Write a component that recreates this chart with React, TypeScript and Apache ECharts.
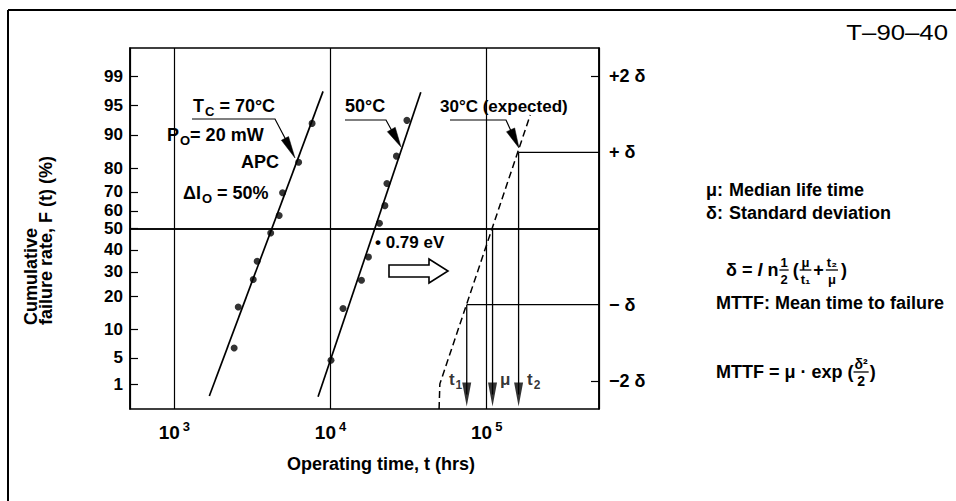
import React, { useEffect, useRef } from 'react';
import * as echarts from 'echarts';

// ---------------- data ----------------
// left axis: cumulative failure rate labels and their position on the sigma scale
const percentLabels = ['1', '5', '10', '20', '30', '40', '50', '60', '70', '80', '90', '95', '99'];
const percentSigma = [-2.05, -1.7, -1.32, -0.89, -0.57, -0.28, 0, 0.23, 0.48, 0.79, 1.23, 1.62, 2.0];
// right axis: standard deviation scale
const sigmaLabelValues = [-2, -1, 1, 2];
const sigmaLabels = ['\u22122 \u03b4', '\u2212 \u03b4', '+ \u03b4', '+2 \u03b4'];
const sigmaTickValues = [-2, 2];

// Tc = 70 degC measurements (hours, sigma) and fitted line
const hours70 = [7620, 6250, 4930, 4690, 4140, 3390, 3200, 2565, 2415];
const sigma70 = [1.38, 0.87, 0.47, 0.17, -0.06, -0.43, -0.67, -1.03, -1.57];
const fitHours70 = [1675, 8955];
const fitSigma70 = [-2.2, 1.8];

// Tc = 50 degC measurements and fitted line
const hours50 = [30830, 26420, 22960, 22290, 20560, 17490, 15780, 12020, 10070];
const sigma50 = [1.42, 0.95, 0.59, 0.3, 0.07, -0.375, -0.68, -1.05, -1.73];
const fitHours50 = [8320, 37840];
const fitSigma50 = [-2.21, 1.79];

// 30 degC expected distribution (dashed)
const expHours30 = [49550, 50120, 190000];
const expSigma30 = [-2.37, -2.04, 1.49];

// t1, mu, t2 read-outs
const markerNames = ['t1', 'mu', 't2'];
const markerHours = [74500, 109000, 160000];
const markerStartSigma = [-1, 0, 1];
const arrowHeadSigma = -2.18;

const xMin = 520;
const xMax = 523600;
const yMin = -2.37;
const yMax = 2.37;

// ---------------- helpers ----------------
const FF = '"Liberation Sans", Arial, Helvetica, sans-serif';
const font = (size: number, weight = 'bold', style = 'normal') => `${style} ${weight} ${size}px ${FF}`;
let measureCtx: CanvasRenderingContext2D | null = null;
function tw(text: string, f: string): number {
  if (!measureCtx) measureCtx = document.createElement('canvas').getContext('2d');
  measureCtx!.font = f;
  return measureCtx!.measureText(text).width;
}
function txt(x: number, y: number, text: string, f: string, align = 'left', extra: any = {}, el: any = {}) {
  return {
    type: 'text',
    x,
    y,
    silent: true,
    ...el,
    style: { text, font: f, fill: '#000', textAlign: align, align, textVerticalAlign: 'middle', verticalAlign: 'middle', ...extra },
  };
}
function frac(x: number, y: number, num: string, den: string, f: string) {
  const w = Math.max(tw(num, f), tw(den, f));
  const cx = x + w / 2 + 1;
  return {
    width: w + 2,
    els: [
      txt(cx, y - 8, num, f, 'center'),
      { type: 'line', silent: true, shape: { x1: cx - w / 2 - 1, y1: y, x2: cx + w / 2 + 1, y2: y }, style: { stroke: '#000', lineWidth: 1.3 } },
      txt(cx, y + 9, den, f, 'center'),
    ],
  };
}
function leader(pts: number[][], head: number[][]) {
  return [
    { type: 'polyline', silent: true, shape: { points: pts }, style: { stroke: '#000', lineWidth: 1.2, fill: null } },
    { type: 'polygon', silent: true, shape: { points: head }, style: { fill: '#000', stroke: '#000', lineWidth: 0.5 } },
  ];
}
function arrowHead(from: number[], tip: number[], len: number, half: number) {
  const dx = tip[0] - from[0];
  const dy = tip[1] - from[1];
  const l = Math.hypot(dx, dy);
  const ux = dx / l;
  const uy = dy / l;
  const bx = tip[0] - ux * len;
  const by = tip[1] - uy * len;
  return [
    [bx - uy * half, by + ux * half],
    tip,
    [bx + uy * half, by - ux * half],
  ];
}

function buildGraphic() {
  const g: any[] = [];
  // outer frame
  g.push({ type: 'line', silent: true, shape: { x1: 8, y1: 10, x2: 956, y2: 10 }, style: { stroke: '#000', lineWidth: 2 } });
  g.push({ type: 'line', silent: true, shape: { x1: 8, y1: 10, x2: 8, y2: 501 }, style: { stroke: '#000', lineWidth: 2 } });

  // y axis title (two lines, reading upwards)
  g.push(txt(31, 325, 'Cumulative', font(18), 'left', {}, { rotation: Math.PI / 2 }));
  g.push(txt(46, 325, 'failure rate, F (t) (%)', font(18), 'left', {}, { rotation: Math.PI / 2 }));
  // x axis title
  g.push(txt(381, 464, 'Operating time, t (hrs)', font(18), 'center'));

  const rich = {
    m: { font: font(18), fill: '#000' },
    s: { font: font(13), fill: '#000', padding: [10, 0, 0, 1] },
  };
  g.push(txt(193, 106, '{m|T}{s|C}{m| = 70\u00b0C}', font(18), 'left', { rich }));
  g.push(txt(167, 135, '{m|P}{s|O}{m|= 20 mW}', font(18), 'left', { rich }));
  g.push(txt(279, 162, 'APC', font(18), 'right'));
  g.push(txt(183, 193, '{m|\u0394I}{s|O}{m| = 50%}', font(18), 'left', { rich }));
  g.push(txt(345, 106, '50\u00b0C', font(18)));
  g.push(txt(440, 106, '30\u00b0C (expected)', font(17)));
  g.push(txt(375, 242, '\u2022 0.79 eV', font(17)));

  // leaders with arrow heads
  g.push(...leader([[192, 119], [275, 119], [286, 140]], arrowHead([275, 119], [295, 158], 22, 4)));
  g.push(...leader([[345, 120], [386, 120], [392, 131]], arrowHead([386, 120], [401, 147], 20, 4.5)));
  g.push(...leader([[450, 120], [506, 120], [511, 131]], arrowHead([506, 120], [519, 148], 20, 4.5)));

  // hollow activation-energy arrow
  g.push({
    type: 'polygon',
    silent: true,
    shape: { points: [[389, 265], [429, 265], [429, 259], [448, 271], [429, 283], [429, 277], [389, 277]] },
    style: { fill: '#fff', stroke: '#000', lineWidth: 1.6 },
  });

  // right-hand notes
  g.push(txt(948, 32, 'T\u201390\u201340', font(23, 'normal'), 'right', {}, { scaleX: 1.12 }));
  g.push(txt(706, 190, '\u03bc:', font(18)));
  g.push(txt(729, 190, 'Median life time', font(18)));
  g.push(txt(706, 213, '\u03b4:', font(18)));
  g.push(txt(729, 213, 'Standard deviation', font(18)));
  g.push(txt(716, 303, 'MTTF: Mean time to failure', font(18)));

  // formula: delta = ln 1/2 (mu/t1 + t2/mu)
  const big = font(18);
  const small = font(13);
  let x = 726;
  let y = 270;
  g.push(txt(x, y, '\u03b4 = ', big));
  x += tw('\u03b4 = ', big);
  const it = font(18, 'bold', 'italic');
  g.push(txt(x, y, 'l', it));
  x += tw('l ', it);
  g.push(txt(x, y, 'n', big));
  x += tw('n', big) + 1;
  let fr = frac(x, y, '1', '2', small);
  g.push(...fr.els);
  x += fr.width + 4;
  g.push(txt(x, y, '(', big));
  x += tw('(', big) + 1;
  fr = frac(x, y, '\u03bc', 't\u2081', small);
  g.push(...fr.els);
  x += fr.width + 2;
  g.push(txt(x, y, '+', big));
  x += tw('+', big) + 2;
  fr = frac(x, y, 't\u2082', '\u03bc', small);
  g.push(...fr.els);
  x += fr.width + 3;
  g.push(txt(x, y, ')', big));

  // formula: MTTF = mu . exp (delta^2 / 2)
  x = 716;
  y = 372;
  const s2 = 'MTTF = \u03bc \u00b7 exp (';
  g.push(txt(x, y, s2, big));
  x += tw(s2, big);
  fr = frac(x, y, '\u03b4\u00b2', '2', font(14));
  g.push(...fr.els);
  x += fr.width + 1;
  g.push(txt(x, y, ')', big));
  return g;
}

function buildOption() {
  const black = '#000';
  const lineSeries = (xs: number[], ys: number[], extra: any = {}) => ({
    type: 'line',
    data: xs.map((v, i) => [v, ys[i]]),
    symbol: 'none',
    silent: true,
    lineStyle: { color: black, width: 1.7 },
    z: 3,
    ...extra,
  });
  const series: any[] = [
    lineSeries(fitHours70, fitSigma70),
    { type: 'scatter', data: hours70.map((v, i) => [v, sigma70[i]]), symbol: 'circle', symbolSize: 7, itemStyle: { color: black }, silent: true, z: 4 },
    lineSeries(fitHours50, fitSigma50),
    { type: 'scatter', data: hours50.map((v, i) => [v, sigma50[i]]), symbol: 'circle', symbolSize: 7, itemStyle: { color: black }, silent: true, z: 4 },
    lineSeries(expHours30, expSigma30, {
      lineStyle: { color: black, width: 1.5, type: [7, 4] },
      markLine: {
        silent: true,
        symbol: 'none',
        label: { show: false },
        lineStyle: { color: black, width: 1.5, type: 'solid' },
        data: [{ yAxis: 0 }],
      },
    }),
    lineSeries([markerHours[2], xMax], [1, 1], { lineStyle: { color: black, width: 1.4 } }),
    lineSeries([markerHours[0], xMax], [-1, -1], { lineStyle: { color: black, width: 1.4 } }),
  ];
  markerHours.forEach((h, i) => {
    series.push(lineSeries([h, h], [markerStartSigma[i], arrowHeadSigma], { lineStyle: { color: black, width: 1.3 } }));
  });
  const labelDefs = [
    { position: 'left', distance: 0, formatter: '{t|t}{s|1}' },
    { position: 'right', distance: 3, formatter: '{t|\u03bc}' },
    { position: 'right', distance: 4, formatter: '{t|t}{s|2}' },
  ];
  series.push({
    type: 'scatter',
    silent: true,
    z: 5,
    symbol: 'path://M0,0L10,0L5,24Z',
    symbolSize: [9, 24],
    itemStyle: { color: black },
    data: markerHours.map((h, i) => ({
      name: markerNames[i],
      value: [h, arrowHeadSigma],
      label: {
        show: true,
        position: labelDefs[i].position,
        distance: labelDefs[i].distance,
        offset: [0, -15],
        formatter: labelDefs[i].formatter,
        rich: {
          t: { fontFamily: FF, fontWeight: 'bold', fontSize: 17, color: black },
          s: { fontFamily: FF, fontWeight: 'bold', fontSize: 12, color: black, padding: [10, 0, 0, 1] },
        },
      },
    })),
  });

  return {
    animation: false,
    backgroundColor: '#fff',
    grid: { left: 130, top: 48, width: 469, height: 361, show: true, borderColor: black, borderWidth: 1.5, backgroundColor: 'transparent' },
    xAxis: {
      type: 'log',
      logBase: 10,
      min: xMin,
      max: xMax,
      axisLine: { show: true, lineStyle: { color: black, width: 1.5 } },
      axisTick: { show: false },
      minorTick: { show: false },
      splitLine: { show: true, lineStyle: { color: black, width: 1.2 } },
      axisLabel: {
        margin: 11,
        showMinLabel: false,
        showMaxLabel: false,
        formatter: (v: number) => {
          const l = Math.log10(v);
          const e = Math.round(l);
          if (Math.abs(l - e) > 1e-6) return '';
          return `{b|10}{s|${e}}`;
        },
        rich: {
          b: { fontFamily: FF, fontWeight: 'bold', fontSize: 19, color: black },
          s: { fontFamily: FF, fontWeight: 'bold', fontSize: 13, color: black, padding: [0, 0, 11, 3] },
        },
      },
    },
    yAxis: [
      {
        type: 'value',
        min: yMin,
        max: yMax,
        position: 'left',
        axisLine: { show: true, lineStyle: { color: black, width: 1.5 } },
        axisTick: { show: true, inside: true, length: 8, customValues: percentSigma, lineStyle: { color: black, width: 1.2 } },
        axisLabel: {
          customValues: percentSigma,
          margin: 7,
          fontFamily: FF,
          fontWeight: 'bold',
          fontSize: 17,
          color: black,
          formatter: (v: number) => {
            const i = percentSigma.findIndex((s) => Math.abs(s - v) < 1e-6);
            return i >= 0 ? percentLabels[i] : '';
          },
        },
        splitLine: { show: false },
      },
      {
        type: 'value',
        min: yMin,
        max: yMax,
        position: 'right',
        axisLine: { show: true, lineStyle: { color: black, width: 1.5 } },
        axisTick: { show: true, inside: true, length: 8, customValues: sigmaTickValues, lineStyle: { color: black, width: 1.2 } },
        axisLabel: {
          customValues: sigmaLabelValues,
          margin: 10,
          fontFamily: FF,
          fontWeight: 'bold',
          fontSize: 18,
          color: black,
          formatter: (v: number) => {
            const i = sigmaLabelValues.findIndex((s) => Math.abs(s - v) < 1e-6);
            return i >= 0 ? sigmaLabels[i] : '';
          },
        },
        splitLine: { show: false },
      },
    ],
    series,
    graphic: buildGraphic(),
  };
}

export default function App() {
  const ref = useRef<HTMLDivElement>(null);
  useEffect(() => {
    if (!ref.current) return;
    const chart = echarts.init(ref.current, null, { renderer: 'svg' });
    chart.setOption(buildOption() as any);
    return () => chart.dispose();
  }, []);
  return <div ref={ref} style={{ position: 'fixed', left: 0, top: 0, width: 956, height: 501, background: '#fff' }} />;
}
